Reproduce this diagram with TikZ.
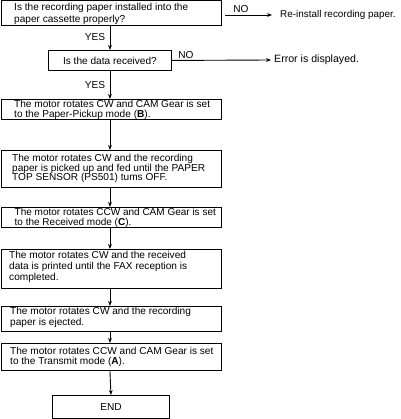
\documentclass[tikz,border=0pt]{standalone}
\usepackage{fontspec}
\setmainfont{Liberation Sans}
\usetikzlibrary{arrows.meta}
\tikzset{
  box/.style={draw, line width=0.9pt, anchor=north west, inner sep=0pt},
  txt/.style={anchor=west, inner sep=0pt, align=left, font=\fontsize{10.1}{9.6}\selectfont},
  lbl/.style={inner sep=0pt, font=\fontsize{10.1}{10}\selectfont},
  arr/.style={line width=0.9pt, -{Stealth[length=5pt,width=3.8pt]}}
}
\begin{document}
\begin{tikzpicture}[x=1pt,y=-1pt]
\useasboundingbox (0,0) rectangle (400,419);
% boxes
\node[box, minimum width=220pt, minimum height=25pt] (b1) at (1,0.5) {};
\node[box, minimum width=123pt, minimum height=20pt] (b2) at (48,50) {};
\node[box, minimum width=220pt, minimum height=20pt] (b3) at (1,99) {};
\node[box, minimum width=220pt, minimum height=37pt] (b4) at (1,150) {};
\node[box, minimum width=220pt, minimum height=20pt] (b5) at (1,207) {};
\node[box, minimum width=220pt, minimum height=39pt] (b6) at (1,249) {};
\node[box, minimum width=220pt, minimum height=25pt] (b7) at (1,306) {};
\node[box, minimum width=220pt, minimum height=27pt] (b8) at (1,343) {};
\node[box, minimum width=117pt, minimum height=23pt] (b9) at (52,395) {};
% texts
\node[txt, font=\fontsize{10.1}{12.5}\selectfont] (t1) at (14,14)
  {Is the recording paper installed into the\\paper cassette properly?};
\node[lbl] (t2) at (b2.center) {Is the data received?};
\node[txt] (t3) at (14,110)
  {The motor rotates CW and CAM Gear is set\\to the Paper-Pickup mode (\textbf{B}).};
\node[txt] (t4) at (12,168.5)
  {The motor rotates CW and the recording\\paper is picked up and fed until the PAPER\\TOP SENSOR (PS501) tums OFF.};
\node[txt, font=\fontsize{10}{9.6}\selectfont] (t5) at (14.5,218)
  {The motor rotates CCW and CAM Gear is set\\to the Received mode (\textbf{C}).};
\node[txt, font=\fontsize{10.1}{11}\selectfont] (t6) at (9,266.5)
  {The motor rotates CW and the received\\data is printed until the FAX reception is\\completed.};
\node[txt, font=\fontsize{10.1}{10.5}\selectfont] (t7) at (10,317.5)
  {The motor rotates CW and the recording\\paper is ejected.};
\node[txt, font=\fontsize{10.1}{10}\selectfont] (t8) at (10,357)
  {The motor rotates CCW and CAM Gear is set\\to the Transmit mode (\textbf{A}).};
\node[lbl] (t9) at (b9.center) {END};
% side texts
\node[lbl, anchor=west, font=\fontsize{9.9}{10}\selectfont] (r1) at (280,15) {Re-install recording paper.};
\node[lbl, anchor=west, font=\fontsize{10.6}{10}\selectfont] (r2) at (274,60) {Error is displayed.};
\coordinate (s1) at (225,15);
\node[lbl] (no1) at (241,9.5) {NO};
\node[lbl] (no2) at (186,55) {NO};
\node[lbl] (yes1) at (95,37.5) {YES};
\node[lbl] (yes2) at (95,85) {YES};
% connectors
\draw[arr] (s1) -- ([xshift=-8pt]r1.west);
\draw[arr] (b2.east) -- ([xshift=-3pt]r2.west);
\draw[arr] (b1.south -| b2.north) -- (b2.north);
\draw[arr] (b2.south) -- (b2.south |- b3.north);
\draw[arr] (b3.south -| b2.south) -- (b2.south |- b4.north);
\draw[arr] (b4.south -| b2.south) -- (b2.south |- b5.north);
\draw[arr] (b5.south -| b2.south) -- (b2.south |- b6.north);
\draw[arr] (b6.south -| b2.south) -- (b2.south |- b7.north);
\draw[arr] (b7.south -| b2.south) -- (b2.south |- b8.north);
\draw[arr] (b8.south -| b2.south) -- (b9.north);
\end{tikzpicture}
\end{document}
